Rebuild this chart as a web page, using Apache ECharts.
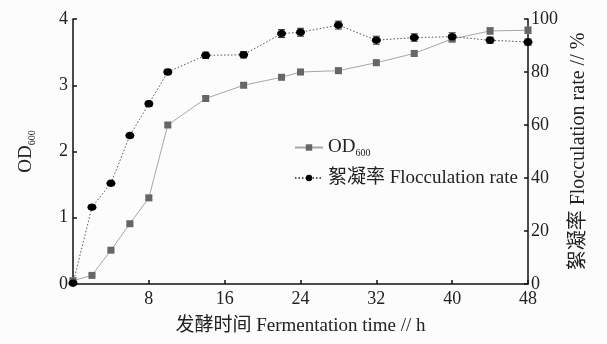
<!DOCTYPE html>
<html><head><meta charset="utf-8">
<script src="https://cdn.jsdelivr.net/npm/echarts@6/dist/echarts.min.js"></script>
<style>html,body{margin:0;padding:0;background:#fcfcfc}#c{width:607px;height:344px}</style>
</head><body><div id="c"></div>
<script>
var hours = [0, 2, 4, 6, 8, 10, 14, 18, 22, 24, 28, 32, 36, 40, 44, 48];
var od600 = [0.05, 0.13, 0.51, 0.91, 1.30, 2.40, 2.80, 3.00, 3.12, 3.20, 3.22, 3.34, 3.48, 3.70, 3.82, 3.83];
var odErr = [0.02, 0.02, 0.02, 0.02, 0.03, 0.03, 0.03, 0.03, 0.03, 0.04, 0.04, 0.04, 0.04, 0.05, 0.05, 0.05];
var floc = [0.3, 29, 38, 56, 68, 80, 86.3, 86.5, 94.5, 95, 97.7, 92, 93, 93.3, 92, 91.3];
var flocErr = [0.5, 0.8, 0.8, 0.8, 1.0, 1.0, 1.2, 1.2, 1.5, 1.5, 1.5, 1.5, 1.4, 1.5, 1.2, 1.2];
var xTicks = [0, 8, 16, 24, 32, 40, 48];
var leftTicks = [0, 1, 2, 3, 4];
var rightTicks = [0, 20, 40, 60, 80, 100];

var FONT = '"Liberation Serif", "Noto Sans CJK SC", serif';
var chart = echarts.init(document.getElementById('c'));

function errSeries(vals, errs, axisIdx, color) {
  var data = hours.map(function (h, i) { return [h, vals[i], errs[i]]; });
  return {
    type: 'custom', yAxisIndex: axisIdx, silent: true, z: 1,
    data: data,
    renderItem: function (params, api) {
      var x = api.value(0), y = api.value(1), e = api.value(2);
      var hi = api.coord([x, y + e]), lo = api.coord([x, y - e]);
      var w = 3.5;
      var st = { stroke: color, lineWidth: 1 };
      return { type: 'group', children: [
        { type: 'line', shape: { x1: hi[0], y1: hi[1], x2: lo[0], y2: lo[1] }, style: st },
        { type: 'line', shape: { x1: hi[0] - w, y1: hi[1], x2: hi[0] + w, y2: hi[1] }, style: st },
        { type: 'line', shape: { x1: lo[0] - w, y1: lo[1], x2: lo[0] + w, y2: lo[1] }, style: st }
      ]};
    }
  };
}

var axisLine = { show: true, lineStyle: { color: '#111', width: 1.5 } };
var axisTick = { show: true, inside: true, length: 4, lineStyle: { color: '#111', width: 1.5 } };
var axisLabel = { color: '#222', fontFamily: FONT, fontSize: 18 };

chart.setOption({
  backgroundColor: '#fcfcfc',
  animation: false,
  grid: { left: 73, right: 79, top: 19, bottom: 60 },
  legend: {
    data: ['OD600', '絮凝率 Flocculation rate'],
    orient: 'vertical', left: 289, top: 133,
    itemWidth: 28, itemHeight: 8, itemGap: 10,
    textStyle: { fontFamily: FONT, fontSize: 19, color: '#222',
      rich: { a: { fontFamily: FONT, fontSize: 19, color: '#222' },
              b: { fontFamily: FONT, fontSize: 10, color: '#222', verticalAlign: 'bottom', padding: [12, 0, 0, 0] } } },
    formatter: function (n) { return n === 'OD600' ? '{a|OD}{b|600}' : n; }
  },
  xAxis: {
    type: 'value', min: 0, max: 48, interval: 8,
    name: '发酵时间 Fermentation time // h', nameLocation: 'middle', nameGap: 33,
    nameTextStyle: { fontFamily: FONT, fontSize: 19, color: '#222' },
    axisLine: axisLine, axisTick: axisTick, splitLine: { show: false },
    axisLabel: Object.assign({}, axisLabel, { margin: 6, showMinLabel: false,
      formatter: function (v) { return xTicks.indexOf(v) >= 0 ? String(v) : ''; } })
  },
  yAxis: [{
    type: 'value', min: 0, max: 4, interval: 1, position: 'left',
    name: '{a|OD}{b|600}', nameLocation: 'middle', nameGap: 36, nameRotate: 90,
    nameTextStyle: { fontFamily: FONT, fontSize: 19, color: '#222',
      rich: { a: { fontFamily: FONT, fontSize: 19, color: '#222' },
              b: { fontFamily: FONT, fontSize: 10, color: '#222', padding: [12, 0, 0, 0] } } },
    axisLine: axisLine, axisTick: axisTick, splitLine: { show: false },
    axisLabel: Object.assign({}, axisLabel, { margin: 5,
      formatter: function (v) { return leftTicks.indexOf(v) >= 0 ? String(v) : ''; } })
  }, {
    type: 'value', min: 0, max: 100, interval: 20, position: 'right',
    name: '絮凝率 Flocculation rate // %', nameLocation: 'middle', nameGap: 38, nameRotate: 90,
    nameTextStyle: { fontFamily: FONT, fontSize: 20, color: '#222' },
    axisLine: axisLine, axisTick: axisTick, splitLine: { show: false },
    axisLabel: Object.assign({}, axisLabel, { margin: 3,
      formatter: function (v) { return rightTicks.indexOf(v) >= 0 ? String(v) : ''; } })
  }],
  series: [
    errSeries(od600, odErr, 0, '#888'),
    errSeries(floc, flocErr, 1, '#333'),
    {
      name: 'OD600', type: 'line', yAxisIndex: 0, z: 3,
      data: hours.map(function (h, i) { return [h, od600[i]]; }),
      symbol: 'rect', symbolSize: 7,
      lineStyle: { color: '#b3a2a2', width: 1 },
      itemStyle: { color: '#666' }
    },
    {
      name: '絮凝率 Flocculation rate', type: 'line', yAxisIndex: 1, z: 4,
      data: hours.map(function (h, i) { return [h, floc[i]]; }),
      symbol: 'circle', symbolSize: [9, 7.5],
      lineStyle: { color: '#555', width: 1, type: [1.5, 2] },
      itemStyle: { color: '#000' }
    }
  ]
});
</script></body></html>
